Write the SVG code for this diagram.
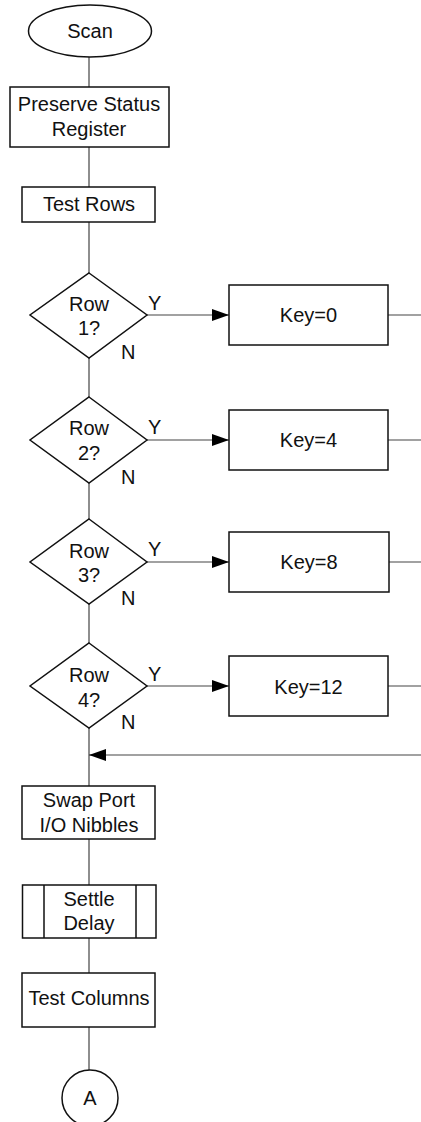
<svg xmlns="http://www.w3.org/2000/svg" width="421" height="1122" viewBox="0 0 421 1122">
<style>
.s{fill:#fff;stroke:#111;stroke-width:1.5}
.t{font-family:"Liberation Sans",Arial,sans-serif;font-size:20px;fill:#111;text-anchor:middle}
.l{font-family:"Liberation Sans",Arial,sans-serif;font-size:20px;fill:#111}
.c{fill:none;stroke:#444;stroke-width:1.2}
</style>
<defs>
<marker id="ah" markerUnits="userSpaceOnUse" markerWidth="17" markerHeight="12" refX="17" refY="6" orient="auto">
<path d="M0,0 L17,6 L0,12 z" fill="#000"/>
</marker>
</defs>
<rect width="421" height="1122" fill="#fff"/>
<g id="connectors">
<path class="c" d="M89,57 V87 M89,147 V187 M89,222 V273 M89,358 V397 M89,483 V519 M89,604 V643 M89,728 V786 M89,839 V885 M89,938 V973 M89,1027 V1070"/>
<path class="c" d="M147,315 H229" marker-end="url(#ah)"/>
<path class="c" d="M147,440 H229" marker-end="url(#ah)"/>
<path class="c" d="M147,562 H229" marker-end="url(#ah)"/>
<path class="c" d="M147,686 H229" marker-end="url(#ah)"/>
<path class="c" d="M386,315 H421 M388,440 H421 M389,562 H421 M388,686 H421"/>
<path class="c" d="M421,755 H89" stroke="#111" marker-end="url(#ah)"/>
</g>
<g id="scan"><ellipse class="s" cx="90" cy="31" rx="61.5" ry="26"/><text class="t" x="90" y="38">Scan</text></g>
<g id="preserve"><rect class="s" x="10" y="87" width="159" height="60"/><text class="t" x="89" y="111">Preserve Status</text><text class="t" x="89" y="136">Register</text></g>
<g id="testrows"><rect class="s" x="22" y="187" width="133" height="35"/><text class="t" x="89" y="211">Test Rows</text></g>
<g id="row1"><path class="s" d="M89,273 L147,315 L89,358 L30,315 Z"/><text class="t" x="89" y="311">Row</text><text class="t" x="89" y="335">1?</text><text class="l" x="148" y="310">Y</text><text class="l" x="121" y="359">N</text></g>
<g id="key0"><rect class="s" x="229" y="285" width="159" height="60"/><text class="t" x="308.5" y="322">Key=0</text></g>
<g id="row2"><path class="s" d="M89,397 L147,440 L89,483 L30,440 Z"/><text class="t" x="89" y="435">Row</text><text class="t" x="89" y="460">2?</text><text class="l" x="148" y="434">Y</text><text class="l" x="121" y="484">N</text></g>
<g id="key4"><rect class="s" x="229" y="410" width="159" height="60"/><text class="t" x="308.5" y="447">Key=4</text></g>
<g id="row3"><path class="s" d="M89,519 L147,562 L89,604 L30,562 Z"/><text class="t" x="89" y="558">Row</text><text class="t" x="89" y="582">3?</text><text class="l" x="148" y="556">Y</text><text class="l" x="121" y="605">N</text></g>
<g id="key8"><rect class="s" x="229" y="532" width="160" height="60"/><text class="t" x="309" y="569">Key=8</text></g>
<g id="row4"><path class="s" d="M89,643 L147,686 L89,728 L30,686 Z"/><text class="t" x="89" y="682">Row</text><text class="t" x="89" y="707">4?</text><text class="l" x="148" y="681">Y</text><text class="l" x="121" y="729">N</text></g>
<g id="key12"><rect class="s" x="229" y="656" width="159" height="60"/><text class="t" x="308.5" y="694">Key=12</text></g>
<g id="swap"><rect class="s" x="22" y="786" width="133" height="53"/><text class="t" x="89" y="807">Swap Port</text><text class="t" x="89" y="832">I/O Nibbles</text></g>
<g id="settle"><rect class="s" x="22.5" y="885" width="133.5" height="53"/><path class="s" d="M44,885 V938 M136,885 V938"/><text class="t" x="89" y="906">Settle</text><text class="t" x="89" y="930">Delay</text></g>
<g id="testcols"><rect class="s" x="22" y="973" width="133" height="54"/><text class="t" x="89" y="1005">Test Columns</text></g>
<g id="conA"><circle class="s" cx="90" cy="1098" r="28"/><text class="t" x="90" y="1105">A</text></g>
</svg>
